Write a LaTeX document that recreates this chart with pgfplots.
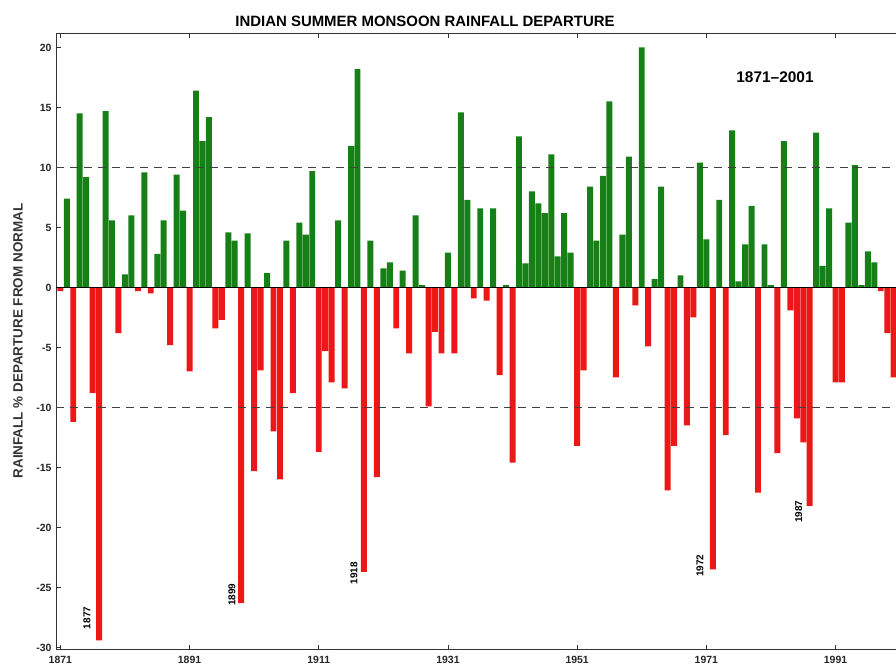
\documentclass[border=0pt]{standalone}
\usepackage{fontspec}
\setmainfont{Liberation Sans}
\usepackage{pgfplots}
\usepackage{pgfplotstable}
\pgfplotsset{compat=1.18}
\definecolor{bargreen}{RGB}{22,128,22}
\definecolor{barred}{RGB}{236,24,24}
\pgfplotstableread{
year value
1871 -0.3
1872 7.4
1873 -11.2
1874 14.5
1875 9.2
1876 -8.8
1877 -29.4
1878 14.7
1879 5.6
1880 -3.8
1881 1.1
1882 6.0
1883 -0.3
1884 9.6
1885 -0.5
1886 2.8
1887 5.6
1888 -4.8
1889 9.4
1890 6.4
1891 -7.0
1892 16.4
1893 12.2
1894 14.2
1895 -3.4
1896 -2.7
1897 4.6
1898 3.9
1899 -26.3
1900 4.5
1901 -15.3
1902 -6.9
1903 1.2
1904 -12.0
1905 -16.0
1906 3.9
1907 -8.8
1908 5.4
1909 4.4
1910 9.7
1911 -13.7
1912 -5.3
1913 -7.9
1914 5.6
1915 -8.4
1916 11.8
1917 18.2
1918 -23.7
1919 3.9
1920 -15.8
1921 1.6
1922 2.1
1923 -3.4
1924 1.4
1925 -5.5
1926 6.0
1927 0.2
1928 -9.9
1929 -3.7
1930 -5.5
1931 2.9
1932 -5.5
1933 14.6
1934 7.3
1935 -0.9
1936 6.6
1937 -1.1
1938 6.6
1939 -7.3
1940 0.2
1941 -14.6
1942 12.6
1943 2.0
1944 8.0
1945 7.0
1946 6.2
1947 11.1
1948 2.6
1949 6.2
1950 2.9
1951 -13.2
1952 -6.9
1953 8.4
1954 3.9
1955 9.3
1956 15.5
1957 -7.5
1958 4.4
1959 10.9
1960 -1.5
1961 20.0
1962 -4.9
1963 0.7
1964 8.4
1965 -16.9
1966 -13.2
1967 1.0
1968 -11.5
1969 -2.5
1970 10.4
1971 4.0
1972 -23.5
1973 7.3
1974 -12.3
1975 13.1
1976 0.5
1977 3.6
1978 6.8
1979 -17.1
1980 3.6
1981 0.2
1982 -13.8
1983 12.2
1984 -1.9
1985 -10.9
1986 -12.9
1987 -18.2
1988 12.9
1989 1.8
1990 6.6
1991 -7.9
1992 -7.9
1993 5.4
1994 10.2
1995 0.2
1996 3.0
1997 2.1
1998 -0.3
1999 -3.8
2000 -7.5
2001 -7.5
}\rainfall

\begin{document}
\begin{tikzpicture}
\begin{axis}[
  scale only axis,
  width=850.6bp, height=616.8bp,
  xmin=1870.33, xmax=2002,
  ymin=-30.2, ymax=21.2,
  clip=false,
  axis line style={line width=0.9bp, black!80},
  tick align=inside,
  major tick length=5bp,
  tick style={black!80, line width=0.8bp},
  xtick={1871,1891,1911,1931,1951,1971,1991},
  ytick={-30,-25,-20,-15,-10,-5,0,5,10,15,20},
  ticklabel style={font=\fontsize{10.5}{12}\selectfont\bfseries, text=black!85},
  /pgf/number format/assume math mode=true,
  /pgf/number format/set thousands separator={},
  xticklabel style={yshift=-3bp},
  yticklabel style={xshift=-1bp},
]
\addplot[ybar, bar width=0.92, bar shift=0pt, fill=bargreen, draw=none,
  restrict y to domain=0:40] table[x=year, y=value] {\rainfall};
\addplot[ybar, bar width=0.92, bar shift=0pt, fill=barred, draw=none,
  restrict y to domain=-40:0] table[x=year, y=value] {\rainfall};
\addplot[black!75, line width=1bp, dash pattern=on 8bp off 6bp]
  coordinates {(1870.33,10) (2002,10)};
\addplot[black!75, line width=1bp, dash pattern=on 8bp off 6bp]
  coordinates {(1870.33,-10) (2002,-10)};
\addplot[black, line width=1.6bp] coordinates {(1870.33,0) (2002,0)};

\coordinate (SW) at (rel axis cs:0,0);

\node[font=\fontsize{15}{18}\selectfont\bfseries] at (axis cs:1927.45,22.2)
  {INDIAN SUMMER MONSOON RAINFALL DEPARTURE};
\node[rotate=90, font=\fontsize{13.5}{15}\selectfont\bfseries, text=black!80]
  at (axis cs:1864.45,-4.46) {RAINFALL \% DEPARTURE FROM NORMAL};
\node[font=\fontsize{15.5}{18}\selectfont\bfseries] at (axis cs:1981.63,17.54)
  {1871--2001};
\node[rotate=90, font=\fontsize{10}{12}\selectfont\bfseries] at (axis cs:1875.13,-27.54) {1877};
\node[rotate=90, font=\fontsize{10}{12}\selectfont\bfseries] at (axis cs:1897.58,-25.6) {1899};
\node[rotate=90, font=\fontsize{10}{12}\selectfont\bfseries] at (axis cs:1916.46,-23.8) {1918};
\node[rotate=90, font=\fontsize{10}{12}\selectfont\bfseries] at (axis cs:1970.0,-23.2) {1972};
\node[rotate=90, font=\fontsize{10}{12}\selectfont\bfseries] at (axis cs:1985.3,-18.7) {1987};
\end{axis}
\pgfresetboundingbox
\path[use as bounding box] ([shift={(-56bp,-18.1bp)}]SW) rectangle ++(896bp,668bp);
\end{tikzpicture}
\end{document}
